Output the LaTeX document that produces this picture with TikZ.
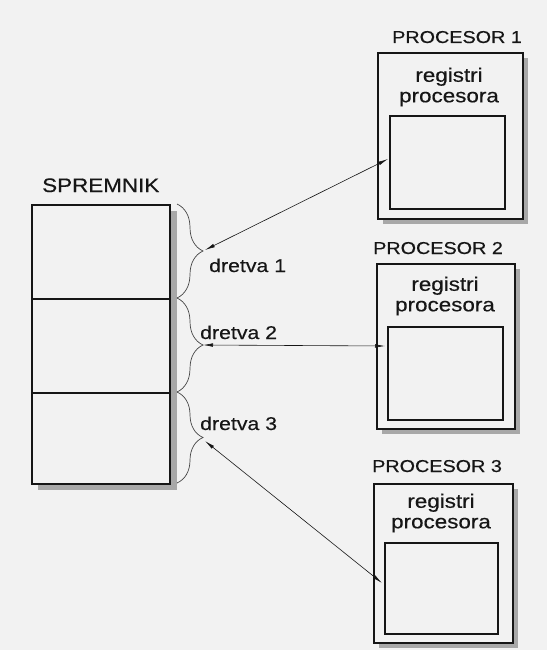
\documentclass[tikz,border=0pt]{standalone}
\usepackage{fontspec}
\setmainfont[FakeStretch=1.15,FakeBold=0.4]{Liberation Sans}
\usetikzlibrary{arrows.meta,decorations.pathreplacing}
\definecolor{bg}{RGB}{242,242,242}
\definecolor{shadowc}{RGB}{168,168,168}
\definecolor{ink}{RGB}{22,22,22}
\begin{document}
\begin{tikzpicture}[x=1pt,y=-1pt,
  box/.style={draw=ink,line width=1.6pt,fill=bg,inner sep=0pt,anchor=north west},
  shadowbox/.style={fill=shadowc},
  title/.style={font=\fontsize{17.2}{20}\selectfont,inner sep=0pt,anchor=base west,text=ink},
  memtitle/.style={font=\fontsize{19.5}{22}\selectfont,inner sep=0pt,anchor=base west,text=ink},
  threadlbl/.style={font=\fontsize{18.5}{22}\selectfont,inner sep=0pt,anchor=base west,text=ink},
  reglbl/.style={font=\fontsize{19.5}{20.5}\selectfont,inner sep=0pt,align=center,text=ink},
  bracestyle/.style={draw=ink!80,line width=0.7pt,decorate,decoration={brace,amplitude=26pt}},
  conn/.style={{Latex[length=10pt,width=3.6pt]}-{Latex[length=10pt,width=3.6pt]},line width=0.6pt,draw=ink}
]
\useasboundingbox (0,0) rectangle (547,650);
\fill[bg] (0,0) rectangle (547,650);

% shadows
\fill[shadowbox] (38,211) rectangle (177,490);
\fill[shadowbox] (383,58) rectangle (528,224);
\fill[shadowbox] (382,269) rectangle (520,434);
\fill[shadowbox] (379,489) rectangle (518,648);

% memory
\node[memtitle] (spr) at (42,192) {SPREMNIK};
\node[box,minimum width=138pt,minimum height=94pt] (m1) at (31,204) {};
\node[box,minimum width=138pt,minimum height=94pt] (m2) at (31,298) {};
\node[box,minimum width=138pt,minimum height=91pt] (m3) at (31,392) {};

% braces
\draw[bracestyle] (177,204) -- (177,298);
\draw[bracestyle] (177,298) -- (177,392);
\draw[bracestyle] (177,392) -- (177,483);
\coordinate (b1) at (205,250);
\coordinate (b2) at (203,345);
\coordinate (b3) at (205,441);

\node[threadlbl] (d1) at (209,272) {dretva 1};
\node[threadlbl] (d2) at (200,339) {dretva 2};
\node[threadlbl] (d3) at (200,430) {dretva 3};

% processor 1
\node[title] (pt1) at (392,43) {PROCESOR 1};
\node[box,minimum width=145pt,minimum height=166pt] (P1) at (377,52) {};
\node[box,minimum width=115pt,minimum height=93pt] (R1) at (389,115) {};
\node[reglbl] (l1) at (449,87) {registri\\procesora};
\coordinate (t1) at (388,159);

% processor 2
\node[title] (pt2) at (373,254) {PROCESOR 2};
\node[box,minimum width=138pt,minimum height=165pt] (P2) at (376,263) {};
\node[box,minimum width=115pt,minimum height=93pt] (R2) at (387,326) {};
\node[reglbl] (l2) at (445,296) {registri\\procesora};
\coordinate (t2) at (385,346);

% processor 3
\node[title] (pt3) at (372,472) {PROCESOR 3};
\node[box,minimum width=139pt,minimum height=159pt] (P3) at (373,483) {};
\node[box,minimum width=113pt,minimum height=91pt] (R3) at (384,542) {};
\node[reglbl] (l3) at (441,513) {registri\\procesora};
\coordinate (t3) at (382,583);

% connectors
\draw[conn] (b1) -- (t1);
\draw[conn] (b2) -- (t2);
\draw[conn] (b3) -- (t3);
\end{tikzpicture}
\end{document}
